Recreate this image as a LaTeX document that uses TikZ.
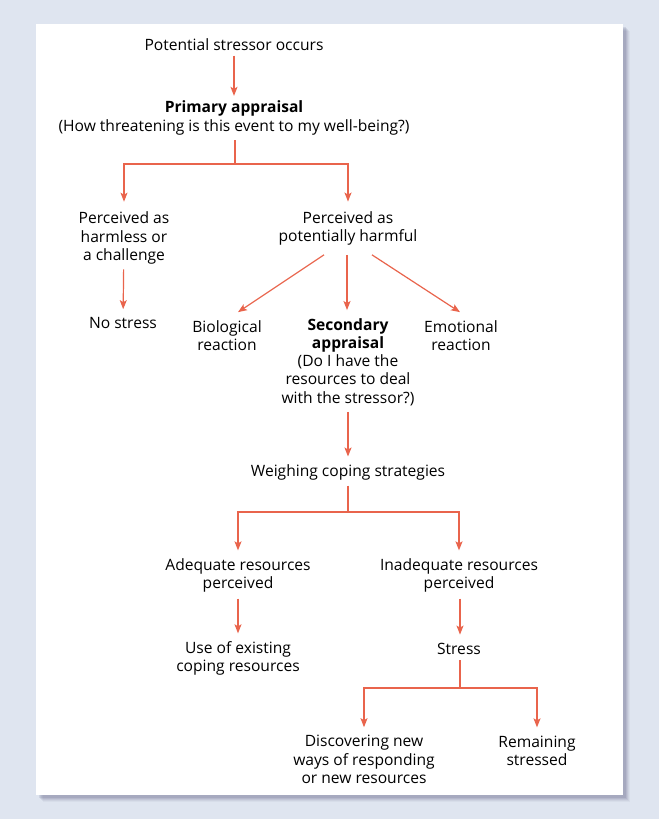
\documentclass[tikz,border=0pt]{standalone}
\usepackage{fontspec}
\setmainfont{Open Sans}
\usetikzlibrary{arrows.meta}
\definecolor{bgblue}{RGB}{223,229,240}
\definecolor{coral}{RGB}{233,100,76}
\begin{document}
\begin{tikzpicture}[x=1pt,y=-1pt,
  txt/.style={align=center,inner sep=0pt,font=\fontsize{15.6}{18.3}\selectfont},
  conn/.style={draw=coral,line width=1.2pt},
  arr/.style={conn,-{Stealth[length=9pt,width=7pt,inset=2pt]}}]
\fill[bgblue] (0,0) rectangle (659,819);
\foreach \o/\a in {7/0.05,6/0.07,5/0.09,4/0.11,3/0.13}
  \fill[black!60!blue!40!gray,opacity=\a] (36+\o,24+\o) rectangle (623+\o,795+\o);
\fill[white] (36,24) rectangle (623,795);
\useasboundingbox (0,0) rectangle (659,819);

\node[txt] (pso) at (234,44.5) {Potential stressor occurs};
\node[txt] (pa) at (234,118) {\textbf{Primary appraisal}\\(How threatening is this event to my well-being?)};
\node[txt] (harmless) at (124,238) {Perceived as\\harmless or\\a challenge};
\node[txt] (harmful) at (348,228.7) {Perceived as\\potentially harmful};
\node[txt] (nostress) at (123,323) {No stress};
\node[txt] (bio) at (227,335.5) {Biological\\reaction};
\node[txt] (sec) at (348,362) {\textbf{Secondary}\\\textbf{appraisal}\\(Do I have the\\resources to deal\\with the stressor?)};
\node[txt] (emo) at (461,335.5) {Emotional\\reaction};
\node[txt] (weigh) at (348,472.5) {Weighing coping strategies};
\node[txt] (adeq) at (238,575.5) {Adequate resources\\perceived};
\node[txt] (inadeq) at (459,575.5) {Inadequate resources\\perceived};
\node[txt] (use) at (238,658.5) {Use of existing\\coping resources};
\node[txt] (stress) at (459,648.5) {Stress};
\node[txt] (disc) at (364,759.5) {Discovering new\\ways of responding\\or new resources};
\node[txt] (remain) at (537,750.5) {Remaining\\stressed};

\coordinate (b1) at (235,164);
\coordinate (b2) at (348,512);
\coordinate (b3) at (460,688);

\draw[arr,shorten <=5pt,shorten >=5pt] (pso) -- (pa);
\draw[conn,shorten <=5pt] (pa.south -| b1) -- (b1);
\draw[arr,shorten >=10pt] (b1) -| (harmless);
\draw[arr,shorten >=10pt] (b1) -| (harmful);
\draw[arr,shorten <=5pt,shorten >=8pt] (harmless) -- (nostress);
\draw[arr] ([xshift=-24pt,yshift=-9pt]harmful.south) -- ([xshift=11pt,yshift=8pt]bio.north);
\draw[arr] ([xshift=-1pt,yshift=-9pt]harmful.south) -- ([xshift=-1pt,yshift=8pt]sec.north);
\draw[arr] ([xshift=24pt,yshift=-9pt]harmful.south) -- ([xshift=-1pt,yshift=8pt]emo.north);
\draw[arr,shorten <=6pt,shorten >=8pt] (sec) -- (weigh);
\draw[conn,shorten <=5pt] (weigh) -- (b2);
\draw[arr,shorten >=8pt] (b2) -| (adeq);
\draw[arr,shorten >=8pt] (b2) -| (inadeq);
\draw[arr,shorten <=6pt,shorten >=8pt] (adeq) -- (use);
\draw[arr,shorten <=6pt,shorten >=8pt] (inadeq.south -| b3) -- (stress.north -| b3);
\draw[conn,shorten <=6pt] (stress.south -| b3) -- (b3);
\draw[arr,shorten >=8pt] (b3) -| (disc);
\draw[arr,shorten >=8pt] (b3) -| (remain);
\end{tikzpicture}
\end{document}
